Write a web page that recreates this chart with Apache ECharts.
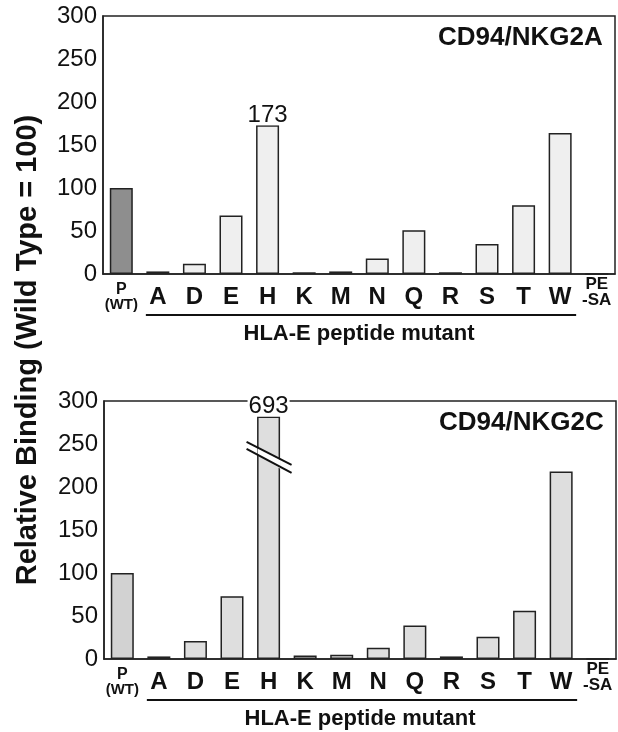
<!DOCTYPE html>
<html>
<head>
<meta charset="utf-8">
<script src="https://cdn.jsdelivr.net/npm/echarts@6/dist/echarts.min.js"></script>
<style>
  html, body { margin: 0; padding: 0; background: #fff; }
  #chart { width: 618px; height: 732px; }
</style>
</head>
<body>
<div id="chart"></div>
<script>
// ---------------- data ----------------
const categories = ['P', 'A', 'D', 'E', 'H', 'K', 'M', 'N', 'Q', 'R', 'S', 'T', 'W', 'PE-SA'];
const nkg2aValues = [100, 3, 12, 68, 173, 2, 3, 18, 51, 2, 35, 80, 164, 0];
const nkg2cValues = [100, 3, 21, 73, 693, 4, 5, 13, 39, 3, 26, 56, 218, 0];
const nkg2cBrokenBarTop = 282;   // drawn height of the truncated H bar (axis units)
const nkg2cBreakMarkAt = 235;    // where the // break sits on the H bar
const labeledCategory = 'H';
const yTicks = [0, 50, 100, 150, 200, 250, 300];
const panelTitles = ['CD94/NKG2A', 'CD94/NKG2C'];
const xAxisTitle = 'HLA-E peptide mutant';
const yAxisTitle = 'Relative Binding (Wild Type = 100)';
const underlineFrom = 'A', underlineTo = 'W';

// ---------------- styles ----------------
const FONT = '"Liberation Sans", Arial, Helvetica, sans-serif';
const INK = '#111';
const panels = [
  { values: nkg2aValues, cap: null, firstColor: '#8e8e8e', color: '#efefef',
    grid: { left: 103, top: 16, width: 512, height: 258 } },
  { values: nkg2cValues, cap: nkg2cBrokenBarTop, firstColor: '#d2d2d2', color: '#dedede',
    grid: { left: 104, top: 401, width: 512, height: 258 } }
];

function labelFormatter(v) {
  if (v === 'P') return '{s1|P}\n{s2|(WT)}';
  if (v === 'PE-SA') return '{pe|PE}\n{pe|-SA}\n{gap| }';
  return '{big|' + v + '}';
}
const rich = {
  big: { fontSize: 24, fontWeight: 'bold', lineHeight: 24, color: INK, fontFamily: FONT },
  s1: { fontSize: 16, fontWeight: 'bold', lineHeight: 15, color: INK, fontFamily: FONT },
  s2: { fontSize: 15, fontWeight: 'bold', lineHeight: 15, color: INK, fontFamily: FONT },
  pe: { fontSize: 17, fontWeight: 'bold', lineHeight: 16, color: INK, fontFamily: FONT },
  gap: { fontSize: 8, lineHeight: 9 }
};

const grids = [], xAxes = [], yAxes = [], series = [];
panels.forEach((p, i) => {
  grids.push(Object.assign({ show: true, borderColor: '#222', borderWidth: 1.5, backgroundColor: 'transparent' }, p.grid));
  xAxes.push({
    type: 'category', gridIndex: i, data: categories, boundaryGap: true,
    axisTick: { show: false },
    axisLine: { show: true, lineStyle: { color: '#222', width: 1.5 } },
    axisLabel: { interval: 0, margin: 23, verticalAlign: 'middle', formatter: labelFormatter, rich: rich },
    name: xAxisTitle, nameLocation: 'middle', nameGap: 60,
    nameTextStyle: { fontSize: 22, fontWeight: 'bold', color: INK, fontFamily: FONT, verticalAlign: 'middle' }
  });
  yAxes.push({
    type: 'value', gridIndex: i, min: yTicks[0], max: yTicks[yTicks.length - 1], interval: yTicks[1] - yTicks[0],
    splitLine: { show: false },
    axisTick: { show: false },
    axisLine: { show: true, lineStyle: { color: '#222', width: 1.5 } },
    axisLabel: { fontSize: 24, color: INK, fontFamily: FONT, margin: 6 }
  });
  series.push({
    type: 'bar', xAxisIndex: i, yAxisIndex: i, barWidth: 23, z: 2,
    itemStyle: { color: p.color, borderColor: '#222', borderWidth: 1.5 },
    label: { show: false },
    data: p.values.map((v, k) => {
      const item = { value: p.cap != null ? Math.min(v, p.cap) : v };
      if (k === 0) item.itemStyle = { color: p.firstColor };
      if (categories[k] === labeledCategory) {
        item.label = {
          show: true, position: 'top', distance: 0, formatter: String(v),
          fontSize: 24, color: INK, fontFamily: FONT,
          backgroundColor: '#fff', padding: [0, 1, 0, 1], lineHeight: 20
        };
      }
      return item;
    })
  });
});

const chart = echarts.init(document.getElementById('chart'), null, { renderer: 'canvas' });
chart.setOption({
  animation: false,
  backgroundColor: '#fff',
  grid: grids, xAxis: xAxes, yAxis: yAxes, series: series
});

// decorations computed from the axes
const graphics = [];
panels.forEach((p, i) => {
  const a = chart.convertToPixel({ xAxisIndex: i, yAxisIndex: i }, [underlineFrom, 0]);
  const w = chart.convertToPixel({ xAxisIndex: i, yAxisIndex: i }, [underlineTo, 0]);
  graphics.push({
    type: 'line', z: 10,
    shape: { x1: a[0] - 12, y1: a[1] + 41, x2: w[0] + 16, y2: w[1] + 41 },
    style: { stroke: '#111', lineWidth: 2 }
  });
  const tr = chart.convertToPixel({ xAxisIndex: i, yAxisIndex: i }, [categories[categories.length - 1], yTicks[yTicks.length - 1]]);
  graphics.push({
    type: 'text', z: 10, x: tr[0] + 6, y: tr[1] + 22,
    style: { text: panelTitles[i], textAlign: 'right', textVerticalAlign: 'middle',
      font: 'bold 26px ' + FONT, fill: INK }
  });
});
// axis break on truncated bar
const br = chart.convertToPixel({ xAxisIndex: 1, yAxisIndex: 1 }, [labeledCategory, nkg2cBreakMarkAt]);
graphics.push({ type: 'polygon', x: br[0], y: br[1], z: 100,
  shape: { points: [[-11, -9], [12, 3], [12, 12], [-11, -3]] }, style: { fill: '#fff' } });
graphics.push({ type: 'line', x: br[0], y: br[1], z: 101,
  shape: { x1: -22, y1: -15, x2: 23, y2: 8 }, style: { stroke: '#111', lineWidth: 2 } });
graphics.push({ type: 'line', x: br[0], y: br[1], z: 101,
  shape: { x1: -22, y1: -8, x2: 23, y2: 16 }, style: { stroke: '#111', lineWidth: 2 } });
graphics.push({
  type: 'text', z: 10, x: 28, y: 350, rotation: Math.PI / 2,
  style: { text: yAxisTitle, textAlign: 'center', textVerticalAlign: 'middle',
    font: 'bold 29px ' + FONT, fill: INK }
});
chart.setOption({ graphic: graphics });
</script>
</body>
</html>
